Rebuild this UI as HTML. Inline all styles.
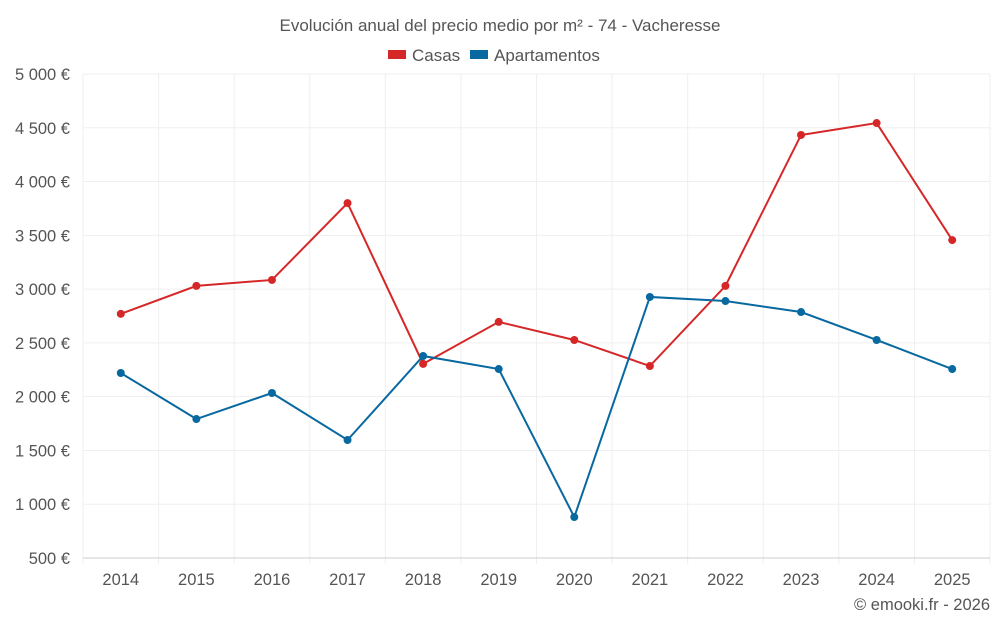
<!DOCTYPE html>
<html><head><meta charset="utf-8"><style>
body{margin:0;background:#fff;font-family:"Liberation Sans",sans-serif}
svg text{font-family:"Liberation Sans",sans-serif;fill:#555}
</style></head><body>
<svg id="c" width="1000" height="625"></svg>
<script>
const years=["2014","2015","2016","2017","2018","2019","2020","2021","2022","2023","2024","2025"];
const casas=[2770,3030,3085,3800,2305,2695,2527,2285,3030,4433,4544,3456];
const apartamentos=[2220,1792,2034,1597,2378,2257,881,2927,2889,2787,2527,2257];
const yTicks=[500,1000,1500,2000,2500,3000,3500,4000,4500,5000];
const yTickLabels=["500 €","1 000 €","1 500 €","2 000 €","2 500 €","3 000 €","3 500 €","4 000 €","4 500 €","5 000 €"];
const L=83,R=990,T=74,B=558,ymin=500,ymax=5000;
const step=(R-L)/years.length;
const x=i=>L+step*(i+0.5);
const y=v=>B-(v-ymin)/(ymax-ymin)*(B-T);
const s=document.getElementById('c');const NS="http://www.w3.org/2000/svg";
function mk(t,a,p){const e=document.createElementNS(NS,t);for(const k in a)e.setAttribute(k,a[k]);(p||s).appendChild(e);return e;}
let t=mk('text',{x:500,y:31,'text-anchor':'middle','font-size':17});t.textContent="Evolución anual del precio medio por m² - 74 - Vacheresse";

yTicks.forEach((v,i)=>{const g=mk('line',{x1:L,x2:R,y1:y(v),y2:y(v),stroke:'#efefef'});

const tx=mk('text',{x:70,y:y(v)+6,'text-anchor':'end','font-size':16.5});tx.textContent=yTickLabels[i];
});
for(let i=0;i<=years.length;i++){const g=mk('line',{x1:L+step*i,x2:L+step*i,y1:T,y2:B+6,stroke:'#efefef'});
}
years.forEach((yr,i)=>{const tx=mk('text',{x:x(i),y:585,'text-anchor':'middle','font-size':16.5});tx.textContent=yr;
});
const ax=mk('line',{x1:L,x2:R,y1:B,y2:B,stroke:'#ccc'});
function series(d,c,n){const p=mk('polyline',{points:d.map((v,i)=>x(i)+','+y(v)).join(' '),fill:'none',stroke:c,'stroke-width':2});

d.forEach((v,i)=>{const q=mk('circle',{cx:x(i),cy:y(v),r:4,fill:c});});}
series(casas,'#d62728','casas');series(apartamentos,'#0868a0','apartamentos');
function leg(xp,c,lab,n){const g=mk('g',{});
mk('rect',{x:xp,y:50,width:18,height:9,fill:c},g);const tx=mk('text',{x:xp+24,y:61,'font-size':17},g);tx.textContent=lab;}
leg(388,'#d62728','Casas','casas');leg(470,'#0868a0','Apartamentos','apartamentos');
t=mk('text',{x:990,y:610,'text-anchor':'end','font-size':16.5});t.textContent="© emooki.fr - 2026";

</script></body></html>
